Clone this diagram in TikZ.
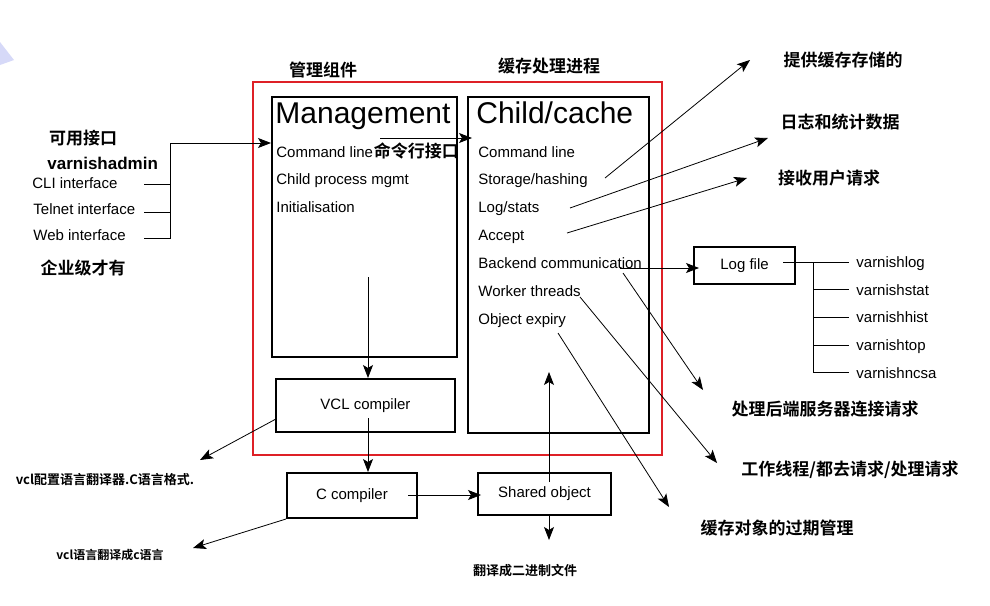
\documentclass[tikz,border=0pt]{standalone}
\usepackage{fontspec}
\setmainfont{Liberation Sans}
\newfontfamily\cn{Noto Sans CJK SC}[BoldFont={* Bold}]
\usetikzlibrary{arrows.meta}
\definecolor{vred}{RGB}{222,32,38}
\definecolor{vghost}{RGB}{214,217,248}
\begin{document}
\begin{tikzpicture}[x=1pt,y=-1pt,line width=0.8pt,inner sep=0pt,
    box/.style={draw,line width=2pt},
    txt/.style={font=\fontsize{15}{18}\selectfont},
    item/.style={txt,anchor=base west},
    head/.style={anchor=base west,font=\fontsize{30}{36}\selectfont},
    note/.style={font=\cn\bfseries\fontsize{17}{20}\selectfont},
    small/.style={font=\cn\bfseries\fontsize{13}{16}\selectfont},
    arr/.style={-{Stealth[length=13pt,width=10pt,inset=3pt]}}]
  \path[use as bounding box] (0,0) rectangle (990,605);
  \fill[vghost] (0,42) -- (14,60) -- (0,65) -- cycle;
  \draw[vred,line width=2pt] (253,82) rectangle (662,455);
  \node[note] (t-mgmt) at (323,70) {管理组件};
  \node[note] (t-child) at (549,66) {缓存处理进程};
  % management and child process
  \node[box,minimum width=185pt,minimum height=260pt] (mgmt) at (364.5,227) {};
  \node[box,minimum width=181pt,minimum height=336pt] (child) at (558.5,265) {};
  \node[head] (m-title) at (275,123) {Management};
  \node[head] (c-title) at (476,123) {Child/cache};
  \foreach \lbl [count=\i from 0] in {Command line,Child process mgmt,Initialisation}
    \node[item] (m\i) at (276,{157+27.9*\i}) {\lbl};
  \foreach \lbl [count=\i from 0] in {Command line,Storage/hashing,Log/stats,Accept,
      Backend communication,Worker threads,Object expiry}
    \node[item] (c\i) at (478,{157+27.9*\i}) {\lbl};
  \node[note,anchor=base west] (m-cn) at (m0.base east) {命令行接口};
  \node[box,txt,minimum width=179pt,minimum height=53pt] (vcl) at (365.5,405.5) {VCL compiler};
  \node[box,txt,minimum width=130pt,minimum height=45pt] (ccomp) at (352,495.5) {C compiler};
  \node[box,txt,minimum width=133pt,minimum height=42pt] (shobj) at (544.5,494) {Shared object};
  \node[box,txt,minimum width=101pt,minimum height=37pt] (logfile) at (744.5,265.5) {Log file};
  % interfaces
  \node[note] (avail) at (83,138) {可用接口};
  \node[anchor=base west,font=\bfseries\fontsize{17}{20}\selectfont] (vadm) at (47,169) {varnishadmin};
  \node[item] (cli) at (32,188) {CLI interface};
  \node[item] (telnet) at (33,214) {Telnet interface};
  \node[item] (web) at (33,240) {Web interface};
  \node[note] (ent) at (83,268) {企业级才有};
  \coordinate (bus) at (170,143);
  \foreach \n/\y in {cli/184,telnet/212,web/238}
    \coordinate (\n-o) at (144,\y);
  \draw (cli-o) -- (cli-o -| bus);
  \draw (telnet-o) -- (telnet-o -| bus);
  \draw[arr] (web-o) -| (bus) -- (bus -| mgmt.west);
  \coordinate (cmd-o) at (380,138);
  \draw[arr] (cmd-o) -- ([xshift=5pt]cmd-o -| child.west);
  % compile chain
  \coordinate (m-down) at (368,277);
  \draw[arr] (m-down) -- (m-down |- vcl.north);
  \coordinate (v-down) at (368,418);
  \draw[arr] (v-down) -- (v-down |- ccomp.north);
  \coordinate (c-right) at (408,495);
  \draw[arr] (c-right) -- ([xshift=4pt]c-right -| shobj.west);
  \coordinate (s-up) at (549,482);
  \coordinate (cache-in) at (549,372);
  \draw[arr] (s-up) -- (cache-in);
  \coordinate (bin-tip) at (549,540);
  \draw[arr] (shobj.south -| s-up) -- (bin-tip);
  \node[small] (bin) at (525,571) {翻译成二进制文件};
  \coordinate (vcl-tip) at (200,460);
  \draw[arr] ([yshift=-14pt]vcl.west) -- (vcl-tip);
  \node[small] (vcl-note) at (105,480) {vcl配置语言翻译器.C语言格式.};
  \coordinate (cc-tip) at (193,548);
  \draw[arr] (ccomp.south west) -- (cc-tip);
  \node[small,font=\cn\bfseries\fontsize{12}{14}\selectfont] (cc-note) at (110,555) {vcl语言翻译成c语言};
  % notes on the child process
  \node[note] (n-store) at (843,60) {提供缓存存储的};
  \node[note] (n-log) at (840,122) {日志和统计数据};
  \node[note] (n-acc) at (829,178) {接收用户请求};
  \node[note] (n-be) at (825,409) {处理后端服务器连接请求};
  \node[note] (n-wk) at (850,470) {工作线程/都去请求/处理请求};
  \node[note] (n-exp) at (777,528) {缓存对象的过期管理};
  \foreach \n/\a/\b/\c/\d in {store/605/178/750/60,log/570/208/768/138,acc/567/233/747/178,
      be/623/273/703/390,wk/580/297/717/463,exp/558/333/669/507} {
    \coordinate (\n-s) at (\a,\b);
    \coordinate (\n-t) at (\c,\d);
    \draw[arr] (\n-s) -- (\n-t);
  }
  \coordinate (be-o) at (620,268);
  \draw[arr] (be-o) -- ([xshift=6pt]be-o -| logfile.west);
  % log readers
  \foreach \lbl [count=\i from 0] in {varnishlog,varnishstat,varnishhist,varnishtop,varnishncsa}
    \node[txt,anchor=west,inner xsep=7pt,text height=11pt,text depth=0pt] (v\i) at (849,{262+27.7*\i}) {\lbl};
  \coordinate (lf-o) at (783,262);
  \coordinate (trunk) at (813,262);
  \draw (lf-o) -- (v0.west);
  \foreach \i in {1,...,4}
    \draw (trunk) |- (v\i.west);
\end{tikzpicture}
\end{document}
